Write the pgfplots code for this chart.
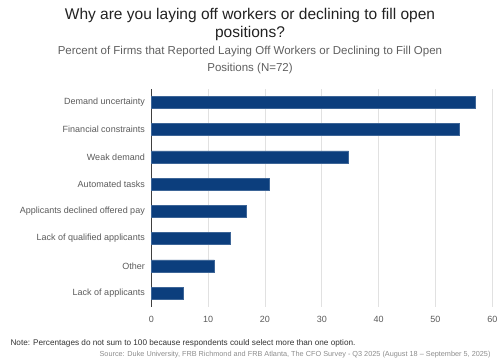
\documentclass[border=0pt]{standalone}
\usepackage{pgfplots}
\pgfplotsset{compat=1.18}
\usepackage{fontspec}
\setmainfont{Liberation Sans}
\definecolor{barblue}{RGB}{12,62,125}
\definecolor{titlegray}{RGB}{34,34,34}
\definecolor{subgray}{RGB}{95,95,95}
\definecolor{labgray}{RGB}{90,90,90}
\definecolor{gridgray}{RGB}{225,225,225}
\begin{document}
\begin{tikzpicture}[x=1bp,y=1bp]
\useasboundingbox (0,0) rectangle (500,363);
\node[align=center, font=\fontsize{15.5bp}{18bp}\selectfont, text=titlegray] at (250,339)
  {Why are you laying off workers or declining to fill open\\positions?};
\node[align=center, font=\fontsize{11.5bp}{17bp}\selectfont, text=subgray] at (250,303)
  {Percent of Firms that Reported Laying Off Workers or Declining to Fill Open\\Positions (N=72)};
\begin{axis}[
  at={(151.3bp,56.3bp)}, anchor=south west,
  scale only axis, width=341bp, height=218bp,
  xmin=0, xmax=60, ymin=-0.5, ymax=7.5,
  xtick={0,10,20,30,40,50,60},
  ytick={0,1,2,3,4,5,6,7},
  yticklabels={Lack of applicants, Other, Lack of qualified applicants, Applicants declined offered pay, Automated tasks, Weak demand, Financial constraints, Demand uncertainty},
  /pgf/number format/assume math mode=true,
  tick label style={font=\fontsize{9bp}{11bp}\selectfont, text=labgray},
  major tick length=0pt,
  axis lines=left,
  x axis line style={draw=none},
  y axis line style={draw=black!75, line width=0.8pt, -},
  xmajorgrids, grid style={gridgray, line width=0.7pt},
  xticklabel style={yshift=-6bp},
  yticklabel style={xshift=-3bp},
  xbar, bar width=12bp,
  clip=false,
]
\addplot[fill=barblue, draw=barblue!80!white, line width=0.4pt] coordinates {
  (5.56,0) (11.11,1) (13.89,2) (16.67,3) (20.83,4) (34.72,5) (54.17,6) (56.94,7)
};
\end{axis}
\node[anchor=west, font=\fontsize{8.2bp}{10bp}\selectfont, text=black!80] at (7,20)
  {Note: Percentages do not sum to 100 because respondents could select more than one option.};
\node[anchor=east, font=\fontsize{7.3bp}{10bp}\selectfont, text=black!45] at (494,8)
  {Source: Duke University, FRB Richmond and FRB Atlanta, The CFO Survey - Q3 2025 (August 18 -- September 5, 2025)};
\end{tikzpicture}
\end{document}
